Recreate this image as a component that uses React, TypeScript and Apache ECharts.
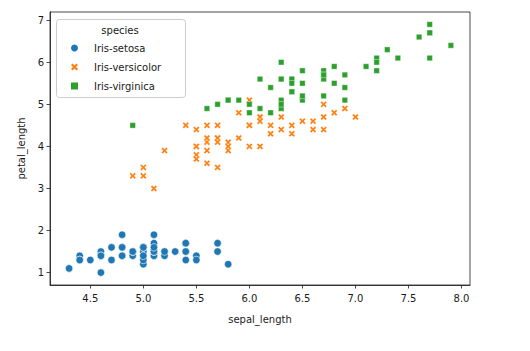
import React, { useEffect, useRef } from "react";
import * as echarts from "echarts";

const species = ["Iris-setosa", "Iris-versicolor", "Iris-virginica"];

const setosaSepal = [5.1,4.9,4.7,4.6,5.0,5.4,4.6,5.0,4.4,4.9,5.4,4.8,4.8,4.3,5.8,5.7,5.4,5.1,5.7,5.1,5.4,5.1,4.6,5.1,4.8,5.0,5.0,5.2,5.2,4.7,4.8,5.4,5.2,5.5,4.9,5.0,5.5,4.9,4.4,5.1,5.0,4.5,4.4,5.0,5.1,4.8,5.1,4.6,5.3,5.0];
const setosaPetal = [1.4,1.4,1.3,1.5,1.4,1.7,1.4,1.5,1.4,1.5,1.5,1.6,1.4,1.1,1.2,1.5,1.3,1.4,1.7,1.5,1.7,1.5,1.0,1.7,1.9,1.6,1.6,1.5,1.4,1.6,1.6,1.5,1.5,1.4,1.5,1.2,1.3,1.5,1.3,1.5,1.3,1.3,1.3,1.6,1.9,1.4,1.6,1.4,1.5,1.4];

const versicolorSepal = [7.0,6.4,6.9,5.5,6.5,5.7,6.3,4.9,6.6,5.2,5.0,5.9,6.0,6.1,5.6,6.7,5.6,5.8,6.2,5.6,5.9,6.1,6.3,6.1,6.4,6.6,6.8,6.7,6.0,5.7,5.5,5.5,5.8,6.0,5.4,6.0,6.7,6.3,5.6,5.5,5.5,6.1,5.8,5.0,5.6,5.7,5.7,6.2,5.1,5.7];
const versicolorPetal = [4.7,4.5,4.9,4.0,4.6,4.5,4.7,3.3,4.6,3.9,3.5,4.2,4.0,4.7,3.6,4.4,4.5,4.1,4.5,3.9,4.8,4.0,4.9,4.7,4.3,4.4,4.8,5.0,4.5,3.5,3.8,3.7,3.9,5.1,4.5,4.5,4.7,4.4,4.1,4.0,4.4,4.6,4.0,3.3,4.2,4.2,4.2,4.3,3.0,4.1];

const virginicaSepal = [6.3,5.8,7.1,6.3,6.5,7.6,4.9,7.3,6.7,7.2,6.5,6.4,6.8,5.7,5.8,6.4,6.5,7.7,7.7,6.0,6.9,5.6,7.7,6.3,6.7,7.2,6.2,6.1,6.4,7.2,7.4,7.9,6.4,6.3,6.1,7.7,6.3,6.4,6.0,6.9,6.7,6.9,5.8,6.8,6.7,6.7,6.3,6.5,6.2,5.9];
const virginicaPetal = [6.0,5.1,5.9,5.6,5.8,6.6,4.5,6.3,5.8,6.1,5.1,5.3,5.5,5.0,5.1,5.3,5.5,6.7,6.9,5.0,5.7,4.9,6.7,4.9,5.7,6.0,4.8,4.9,5.6,5.8,6.1,6.4,5.6,5.1,5.6,6.1,5.6,5.5,4.8,5.4,5.6,5.1,5.1,5.9,5.7,5.2,5.0,5.2,5.4,5.1];

const xTicks = ["4.5", "5.0", "5.5", "6.0", "6.5", "7.0", "7.5", "8.0"];
const yTicks = ["1", "2", "3", "4", "5", "6", "7"];

const colors = ["#1f77b4", "#ff7f0e", "#2ca02c"];
const X_PATH = "path://M0,2.2L2.2,0L5,2.8L7.8,0L10,2.2L7.2,5L10,7.8L7.8,10L5,7.2L2.2,10L0,7.8L2.8,5Z";
const SQ_PATH = "path://M0,0L10,0L10,10L0,10Z";

const zip = (a: number[], b: number[]) => a.map((v, i) => [v, b[i]]);

export default function App() {
  const ref = useRef<HTMLDivElement>(null);
  useEffect(() => {
    if (!ref.current) return;
    const chart = echarts.init(ref.current, null, { renderer: "svg" });
    const font = "DejaVu Sans";
    const ink = "#1a1a1a";
    chart.setOption({
      animation: false,
      backgroundColor: "#ffffff",
      textStyle: { fontFamily: font },
      grid: {
        left: 50,
        right: 60,
        top: 12,
        bottom: 66,
        show: true,
        borderColor: ink,
        borderWidth: 0.8,
        backgroundColor: "transparent",
      },
      xAxis: {
        type: "value",
        min: 4.12,
        max: 8.08,
        splitNumber: 8,
        name: "sepal_length",
        nameLocation: "middle",
        nameGap: 29,
        nameTextStyle: { color: ink, fontSize: 10, fontFamily: font },
        axisLine: { show: true, lineStyle: { color: ink, width: 0.8 } },
        axisTick: { show: true, length: 3.5, inside: false, lineStyle: { color: ink, width: 0.8 } },
        axisLabel: {
          color: ink,
          fontSize: 10,
          fontFamily: font,
          margin: 8,
          showMinLabel: false,
          showMaxLabel: false,
          formatter: (v: number) => {
            const s = v.toFixed(1);
            return xTicks.includes(s) && Math.abs(v - parseFloat(s)) < 1e-6 ? s : "";
          },
        },
        splitLine: { show: false },
      },
      yAxis: {
        type: "value",
        min: 0.705,
        max: 7.195,
        splitNumber: 6,
        name: "petal_length",
        nameLocation: "middle",
        nameGap: 24,
        nameTextStyle: { color: ink, fontSize: 10, fontFamily: font },
        axisLine: { show: true, lineStyle: { color: ink, width: 0.8 } },
        axisTick: { show: true, length: 3.5, inside: false, lineStyle: { color: ink, width: 0.8 } },
        axisLabel: {
          color: ink,
          fontSize: 10,
          fontFamily: font,
          margin: 6,
          showMinLabel: false,
          showMaxLabel: false,
          formatter: (v: number) => {
            const s = String(Math.round(v));
            return yTicks.includes(s) && Math.abs(v - Math.round(v)) < 1e-6 ? s : "";
          },
        },
        splitLine: { show: false },
      },
      graphic: [
        {
          type: "rect",
          z: 3,
          shape: { x: 56.5, y: 19.5, width: 129, height: 78, r: 3 },
          style: { fill: "rgba(255,255,255,0.8)", stroke: "#cccccc", lineWidth: 1 },
        },
        {
          type: "text",
          z: 4,
          x: 120,
          y: 30,
          style: {
            text: "species",
            fontSize: 10,
            fontFamily: font,
            fill: ink,
            align: "center",
            verticalAlign: "middle",
          },
        },
      ],
      legend: {
        show: true,
        orient: "vertical",
        left: 71,
        top: 42,
        padding: 0,
        itemWidth: 29,
        itemHeight: 7,
        itemGap: 7,
        symbolKeepAspect: true,
        itemStyle: { borderWidth: 0 },
        textStyle: { color: ink, fontSize: 10, fontFamily: font, lineHeight: 12 },
        data: [
          { name: species[0], icon: "circle", itemStyle: { color: colors[0], borderWidth: 0, opacity: 1 } },
          { name: species[1], icon: X_PATH, itemStyle: { color: colors[1], borderWidth: 0, opacity: 1 } },
          { name: species[2], icon: SQ_PATH, itemStyle: { color: colors[2], borderWidth: 0, opacity: 1 } },
        ],
      },
      series: [
        {
          name: species[0],
          type: "scatter",
          symbol: "circle",
          symbolSize: 7.5,
          itemStyle: { color: colors[0], borderColor: "#ffffff", borderWidth: 0.6, opacity: 1 },
          data: zip(setosaSepal, setosaPetal),
        },
        {
          name: species[1],
          type: "scatter",
          symbol: X_PATH,
          symbolSize: 6.5,
          itemStyle: { color: colors[1], borderColor: "#ffffff", borderWidth: 0.4, opacity: 1 },
          data: zip(versicolorSepal, versicolorPetal),
        },
        {
          name: species[2],
          type: "scatter",
          symbol: SQ_PATH,
          symbolSize: 5.5,
          itemStyle: { color: colors[2], borderColor: "#ffffff", borderWidth: 0.4, opacity: 1 },
          data: zip(virginicaSepal, virginicaPetal),
        },
      ],
    });
    return () => chart.dispose();
  }, []);
  return (
    <div
      ref={ref}
      style={{ position: "absolute", left: 0, top: 0, width: 530, height: 351 }}
    />
  );
}
